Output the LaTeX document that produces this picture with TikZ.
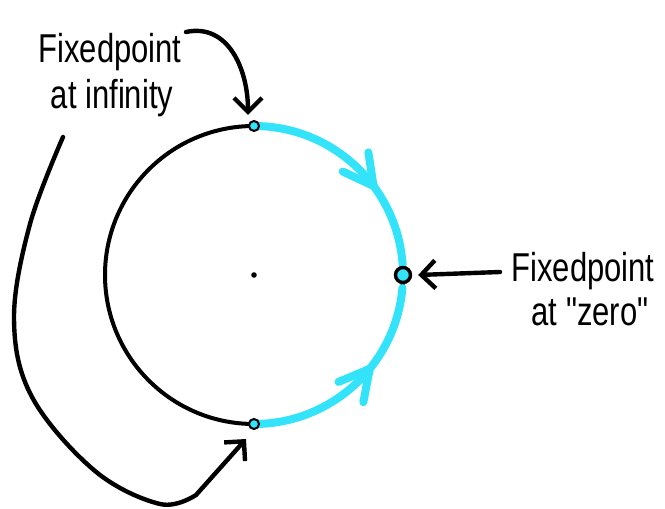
\documentclass[tikz,border=0pt]{standalone}
\usepackage{fontspec}
\setmainfont{Liberation Sans}
\usetikzlibrary{arrows.meta,decorations.markings,calc}
\definecolor{flow}{HTML}{33E3FA}
\tikzset{
  ink/.style={line width=4.4pt, line cap=round, line join=round},
  inkarrow/.style={ink, -{Straight Barb[length=14pt,width=28pt,line width=4.4pt]}},
  flowline/.style={draw=flow, line width=8pt, line cap=round},
  dot/.style={circle, draw=black, fill=flow, line width=2pt, inner sep=0pt, minimum size=10pt},
  bigdot/.style={circle, draw=black, fill=flow, line width=3.4pt, inner sep=0pt, minimum size=15pt},
  lbl/.style={font=\fontsize{31}{31}\selectfont, inner sep=0pt, anchor=base},
  barb/.style={decoration={markings, mark=at position #1 with {
      \draw[draw=flow, line width=8pt, line cap=round, line join=round]
        (-30pt,16pt) -- (0,0) -- (-30pt,-16pt);}}, postaction={decorate}}
}
\begin{document}
\begin{tikzpicture}[x=1pt,y=1pt]
\useasboundingbox (0,0) rectangle (665,509);
\coordinate (c) at (254,234);
% circle
\draw[ink, line width=4pt] (c) circle[radius=149pt];
% cyan flow arcs
\draw[flowline, barb=0.62] ($(c)+(90:149pt)$) arc[start angle=90, end angle=4, radius=149pt];
\draw[flowline, barb=0.6] ($(c)+(-90:149pt)$) arc[start angle=-90, end angle=-5, radius=149pt];
% centre
\fill (c) circle[radius=2.8pt];
% fixed points
\node[dot] (inftop) at ($(c)+(90:149pt)$) {};
\node[dot] (infbot) at ($(c)+(-90:149pt)$) {};
\node[bigdot] (zero) at ($(c)+(0:149pt)$) {};
% labels
\node[lbl] (l1a) at (110,446) {\scalebox{1}[1.3]{Fixedpoint}};
\node[lbl] (l1b) at (112,400) {\scalebox{1}[1.3]{at infinity}};
\node[lbl] (l2a) at (583,227) {\scalebox{1}[1.3]{Fixedpoint}};
\node[lbl] (l2b) at (590,183) {\scalebox{1}[1.3]{at \textquotedbl zero\textquotedbl}};
% arrows
\coordinate (a1s) at (186,477);
\draw[inkarrow] (a1s) .. controls (228,486) and (248,440) .. ([shift={(-6pt,5pt)}]inftop.north);
\coordinate (a2s) at (500,237);
\draw[inkarrow] (a2s) -- ([xshift=6pt]zero.east);
\coordinate (a3s) at (63,372);
\draw[inkarrow] plot[smooth, tension=0.6] coordinates {(a3s) (30,285) (14,190) (32,112) (95,38) (160,5) (196,14)} -- ([shift={(-8pt,-9pt)}]infbot.south);
\end{tikzpicture}
\end{document}
